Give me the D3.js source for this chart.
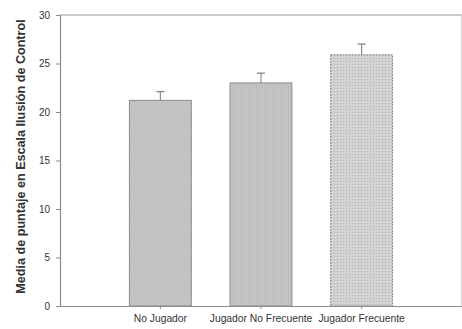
<!DOCTYPE html>
<html>
<head>
<meta charset="utf-8">
<script src="https://cdn.jsdelivr.net/npm/d3@7"></script>
<style>
  body { margin: 0; background: #fff; }
  svg text { font-family: "Liberation Sans", Arial, sans-serif; }
</style>
</head>
<body>
<svg id="chart" width="462" height="329"></svg>
<script>
/* ---------- data ---------- */
const categories = ["No Jugador", "Jugador No Frecuente", "Jugador Frecuente"];
const means      = [21.2, 23.0, 25.9];
const errors     = [0.9, 1.0, 1.1];
const yTicks     = [0, 5, 10, 15, 20, 25, 30];
const patterns   = ["hatch", "grid", "dots"];

/* ---------- layout ---------- */
const W = 462, H = 329;
const m = { left: 60, right: 0, top: 15, bottom: 23 };
const svg = d3.select("#chart");

const x = d3.scaleBand().domain(categories)
  .range([m.left, W - m.right]).paddingInner(0.385).paddingOuter(0.69);
const y = d3.scaleLinear().domain([0, 30]).range([H - m.bottom, m.top]);

/* ---------- fill patterns ---------- */
const defs = svg.append("defs");
const pHatch = defs.append("pattern").attr("id", "hatch")
  .attr("patternUnits", "userSpaceOnUse").attr("width", 3).attr("height", 3);
pHatch.append("rect").attr("width", 3).attr("height", 3).attr("fill", "#c8c8c8");
pHatch.append("path").attr("d", "M0,0L3,3M-1,2L1,4M2,-1L4,1")
  .attr("stroke", "#b0b0b0").attr("stroke-width", 0.7);

const pGrid = defs.append("pattern").attr("id", "grid")
  .attr("patternUnits", "userSpaceOnUse").attr("width", 2).attr("height", 2);
pGrid.append("rect").attr("width", 2).attr("height", 2).attr("fill", "#c6c6c6");
pGrid.append("path").attr("d", "M0.5,0V2").attr("stroke", "#b9b9b9").attr("stroke-width", 0.7);

const pDots = defs.append("pattern").attr("id", "dots")
  .attr("patternUnits", "userSpaceOnUse").attr("width", 3).attr("height", 3);
pDots.append("rect").attr("width", 3).attr("height", 3).attr("fill", "#d3d3d3");
pDots.append("rect").attr("x", 1).attr("y", 1).attr("width", 1).attr("height", 1).attr("fill", "#b0b0b0");

/* ---------- frame ---------- */
svg.append("line").attr("x1", m.left).attr("x2", W).attr("y1", y(30)).attr("y2", y(30))
  .attr("stroke", "#9a9a9a").attr("stroke-width", 1.2);
svg.append("line").attr("x1", W - 0.5).attr("x2", W - 0.5).attr("y1", y(30)).attr("y2", y(0))
  .attr("stroke", "#d8d8d8");

/* ---------- bars ---------- */
const g = svg.append("g");
g.selectAll("rect.bar").data(categories).join("rect")
  .attr("class", "bar")
  .attr("x", d => x(d))
  .attr("y", (d, i) => y(means[i]))
  .attr("width", x.bandwidth())
  .attr("height", (d, i) => y(0) - y(means[i]))
  .attr("fill", (d, i) => `url(#${patterns[i]})`)
  .attr("stroke", "#8c8c8c")
  .attr("stroke-width", 1)
  .attr("stroke-dasharray", (d, i) => i === 2 ? "2,1" : null);

/* ---------- error bars ---------- */
const eb = g.selectAll("g.err").data(categories).join("g").attr("class", "err");
eb.append("line")
  .attr("x1", d => x(d) + x.bandwidth() / 2).attr("x2", d => x(d) + x.bandwidth() / 2)
  .attr("y1", (d, i) => y(means[i])).attr("y2", (d, i) => y(means[i] + errors[i]))
  .attr("stroke", "#8c8c8c").attr("stroke-width", 1.2);
eb.append("line")
  .attr("x1", d => x(d) + x.bandwidth() / 2 - 4).attr("x2", d => x(d) + x.bandwidth() / 2 + 4)
  .attr("y1", (d, i) => y(means[i] + errors[i])).attr("y2", (d, i) => y(means[i] + errors[i]))
  .attr("stroke", "#8c8c8c").attr("stroke-width", 1.4);

/* ---------- axes ---------- */
const yAxis = svg.append("g").attr("transform", `translate(${m.left},0)`)
  .call(d3.axisLeft(y).tickValues(yTicks).tickSize(4).tickPadding(6));
const xAxis = svg.append("g").attr("transform", `translate(0,${y(0)})`)
  .call(d3.axisBottom(x).tickSize(3).tickPadding(6).tickSizeOuter(0));
xAxis.select(".domain").attr("d", `M${m.left},0.5H${W}`);

[yAxis, xAxis].forEach(a => {
  a.select(".domain").attr("stroke", "#8c8c8c").attr("stroke-width", 1.2);
  a.selectAll(".tick line").attr("stroke", "#8c8c8c");
  a.selectAll(".tick text").attr("fill", "#333");
});
yAxis.selectAll(".tick text").attr("font-size", 10);
xAxis.selectAll(".tick text").attr("font-size", 10.3).attr("textLength", null);

/* ---------- y title ---------- */
svg.append("text")
  .attr("transform", `translate(25,${(y(0) + y(30)) / 2 - 4}) rotate(-90)`)
  .attr("text-anchor", "middle")
  .attr("font-size", 12.6).attr("font-weight", "bold").attr("fill", "#333")
  .text("Media de puntaje en Escala Ilusión de Control");
</script>
</body>
</html>
